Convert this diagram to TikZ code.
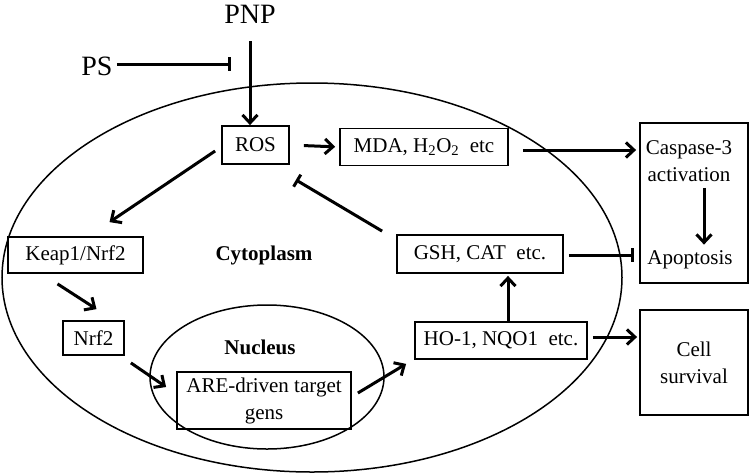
\documentclass[tikz,border=0pt]{standalone}
\usepackage{fontspec}
\setmainfont{Liberation Serif}
\usetikzlibrary{arrows.meta,calc}
\begin{document}
\begin{tikzpicture}[x=1pt,y=-1pt,
  txt/.style={font=\fontsize{21}{27}\selectfont, inner sep=0pt, align=center},
  big/.style={font=\fontsize{28}{32}\selectfont, inner sep=0pt},
  boxn/.style={draw, line width=1.8pt, txt, minimum width=#1},
  arr/.style={line width=3pt, -{Straight Barb[length=8pt,width=15pt]}},
  inh/.style={line width=3pt, -{Bar[width=14pt]}},
  memb/.style={line width=1.5pt}]
\useasboundingbox (0,0) rectangle (750,475);
% membranes
\draw[memb] (312,277.5) ellipse [x radius=310, y radius=194.5];
\draw[memb] (267,377) ellipse [x radius=117, y radius=72];
% labels
\node[big] (pnp) at (250,14) {PNP};
\node[big] (ps) at (97,66) {PS};
\node[txt, font=\fontsize{21}{27}\selectfont\bfseries] (cyto) at (264,255) {Cytoplasm};
\node[txt, font=\fontsize{21}{27}\selectfont\bfseries] (nuc) at (260,347) {Nucleus};
% boxes
\node[boxn=67, minimum height=38] (ros) at (255.5,145) {ROS};
\node[boxn=168, minimum height=37] (mda) at (424,147) {MDA, H\textsubscript{2}O\textsubscript{2}~ etc};
\node[boxn=108, minimum height=160] (apobox) at (694,203) {};
\node[txt] (casp) at (689,161) {Caspase-3\\activation};
\node[txt] (apo) at (690,260) {Apoptosis};
\node[boxn=108, minimum height=105] (cell) at (694,362.5) {Cell\\survival};
\node[boxn=166, minimum height=38] (gsh) at (480,254) {GSH, CAT~ etc.};
\node[boxn=172, minimum height=37] (ho) at (501,340.5) {HO-1, NQO1~ etc.};
\node[boxn=135, minimum height=36] (keap) at (75.5,255) {Keap1/Nrf2};
\node[boxn=61, minimum height=34] (nrf) at (93.5,338) {Nrf2};
\node[boxn=174, minimum height=57] (are) at (264,400.5) {ARE-driven target\\gens};
\coordinate (psend) at (231,64);
\coordinate (arrx) at (704,0);
% connectors
\draw[arr, shorten <=18pt] (pnp.south) -- (pnp.south |- ros.north);
\draw[inh, shorten <=4pt] ([yshift=2pt]ps.east) -- (psend);
\draw[arr, shorten <=14pt, shorten >=4pt] (ros.east) -- (mda.west);
\draw[arr, shorten <=14pt, shorten >=3pt] ([yshift=-3pt]mda.east) -- ([yshift=-3pt]mda.east -| apobox.west);
\draw[arr, shorten <=6pt, shorten >=6pt] (casp.south -| arrx) -- (apo.north -| arrx);
\draw[arr] ([xshift=-6pt,yshift=-6pt]ros.west) -- ([xshift=34pt,yshift=14pt]keap.north);
\draw[arr] ([xshift=-18pt,yshift=-10pt]keap.south) -- ([xshift=3pt,yshift=11pt]nrf.north);
\draw[arr] ([xshift=6pt,yshift=-7pt]nrf.south east) -- ([xshift=-10pt,yshift=13.5pt]are.west);
\draw[arr] ([xshift=6pt,yshift=7.5pt]are.east) -- ([xshift=-8pt,yshift=-4pt]ho.south west);
\draw[arr, shorten >=2pt] ([xshift=7pt]ho.north) -- ([xshift=7pt]ho.north |- gsh.south);
\draw[arr, shorten <=5pt, shorten >=2pt] ([yshift=3.5pt]ho.east) -- ([yshift=3.5pt]ho.east -| cell.west);
\draw[inh, shorten <=5pt, shorten >=5pt] ([yshift=-1pt]gsh.east) -- ([yshift=-1pt]gsh.east -| apobox.west);
\draw[inh] ([xshift=-14pt,yshift=3pt]gsh.north west) -- ([xshift=6pt,yshift=-15pt]ros.south east);
\end{tikzpicture}
\end{document}
